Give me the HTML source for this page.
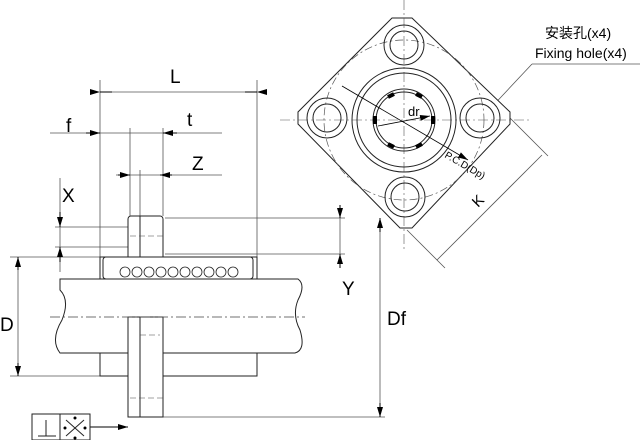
<!DOCTYPE html>
<html><head><meta charset="utf-8"><style>body{margin:0;background:#fff}svg{display:block}</style></head><body>
<svg width="640" height="440" viewBox="0 0 640 440" xmlns="http://www.w3.org/2000/svg" font-family="Liberation Sans, Noto Sans CJK SC, sans-serif">
<defs>
<marker id="a" markerWidth="10" markerHeight="6" refX="10" refY="3" orient="auto" markerUnits="userSpaceOnUse"><path d="M0,0 L10,3 L0,6z" fill="#000"/></marker>
</defs>
<g stroke="#555" stroke-width="0.8" fill="none">
<line x1="100" y1="80" x2="100" y2="257"/>
<line x1="257" y1="80" x2="257" y2="257"/>
<line x1="130" y1="128" x2="130" y2="216"/>
<line x1="140" y1="170" x2="140" y2="216"/>
<line x1="163" y1="128" x2="163" y2="216"/>
<line x1="100" y1="92" x2="257" y2="92"/>
<line x1="50" y1="133" x2="222" y2="133"/>
<line x1="116" y1="175" x2="222" y2="175"/>
<line x1="60" y1="178" x2="60" y2="272"/>
<line x1="55" y1="227" x2="128" y2="227"/>
<line x1="55" y1="247" x2="128" y2="247"/>
<line x1="10" y1="257" x2="100" y2="257"/>
<line x1="10" y1="376" x2="100" y2="376"/>
<line x1="18" y1="257" x2="18" y2="376"/>
<line x1="165" y1="218" x2="345" y2="218"/>
<line x1="165" y1="254" x2="345" y2="254"/>
<line x1="163" y1="417" x2="385" y2="417"/>
<line x1="340" y1="205" x2="340" y2="268"/>
<line x1="380" y1="218" x2="380" y2="417"/>
<line x1="407" y1="230" x2="445" y2="268"/>
<line x1="510" y1="118" x2="548" y2="156"/>
<line x1="437" y1="260" x2="542" y2="155"/>
<line x1="487" y1="112" x2="532" y2="64"/>
<line x1="532" y1="64" x2="640" y2="64"/>
</g>
<g stroke="#000" stroke-width="1" fill="none">
<line x1="100" y1="92" x2="112" y2="92" marker-start="url(#a)"/>
<line x1="257" y1="92" x2="245" y2="92" marker-start="url(#a)"/>
<line x1="86" y1="133" x2="100" y2="133" marker-end="url(#a)"/>
<line x1="177" y1="133" x2="163" y2="133" marker-end="url(#a)"/>
<line x1="118" y1="175" x2="130" y2="175" marker-end="url(#a)"/>
<line x1="172" y1="175" x2="160" y2="175" marker-end="url(#a)"/>
<line x1="60" y1="212" x2="60" y2="227" marker-end="url(#a)"/>
<line x1="60" y1="262" x2="60" y2="247" marker-end="url(#a)"/>
<line x1="18" y1="270" x2="18" y2="257" marker-end="url(#a)"/>
<line x1="18" y1="363" x2="18" y2="376" marker-end="url(#a)"/>
<line x1="340" y1="205" x2="340" y2="218" marker-end="url(#a)"/>
<line x1="340" y1="268" x2="340" y2="254" marker-end="url(#a)"/>
<line x1="380" y1="232" x2="380" y2="218" marker-end="url(#a)"/>
<line x1="380" y1="403" x2="380" y2="417" marker-end="url(#a)"/>
<line x1="90" y1="427" x2="128" y2="427" marker-end="url(#a)"/>
</g>
<g stroke="#222" stroke-width="1" fill="#fff">
<rect x="100" y="257" width="157" height="119"/>
<rect x="128" y="216" width="35" height="50" rx="3"/>
<path d="M60,279 L298,279 Q306,285 298,300 Q292,315 300,330 Q306,350 295,353 L60,353 Q50,340 62,320 Q70,300 60,290z"/>
<rect x="103" y="257" width="150" height="22" rx="3" fill="#fff"/>
<path d="M128,317 L163,317 L163,417 L128,417z"/>
<line x1="140" y1="317" x2="140" y2="417"/>
<line x1="140" y1="216" x2="140" y2="257"/>
</g>
<g stroke="#222" stroke-width="0.8" fill="#fff">
<circle cx="125" cy="272" r="5"/><circle cx="137" cy="272" r="5"/><circle cx="149" cy="272" r="5"/><circle cx="161" cy="272" r="5"/><circle cx="173" cy="272" r="5"/><circle cx="185" cy="272" r="5"/><circle cx="197" cy="272" r="5"/><circle cx="209" cy="272" r="5"/><circle cx="221" cy="272" r="5"/><circle cx="233" cy="272" r="5"/>
</g>
<line x1="50" y1="317" x2="305" y2="317" stroke="#444" stroke-width="0.7" stroke-dasharray="10,3,2,3"/>
<g stroke="#444" stroke-width="0.6" stroke-dasharray="6,3"><line x1="130" y1="236" x2="163" y2="236"/><line x1="140" y1="335" x2="160" y2="335"/><line x1="130" y1="398" x2="163" y2="398"/></g>
<g stroke="#222" fill="none" stroke-width="1"><rect x="32" y="414" width="58" height="26"/><line x1="60" y1="414" x2="60" y2="440"/><line x1="46" y1="420" x2="46" y2="436"/><line x1="38" y1="436" x2="56" y2="436"/>
<line x1="66" y1="420" x2="84" y2="436"/><line x1="84" y1="420" x2="66" y2="436"/></g>
<g fill="#000"><circle cx="75" cy="418" r="1.5"/><circle cx="75" cy="438" r="1.5"/><circle cx="65" cy="428" r="1.5"/><circle cx="85" cy="428" r="1.5"/></g>
<g stroke="#222" stroke-width="1" fill="#fff">
<path d="M392,18 L412,18 L510,112 L510,124 L412,228 L400,228 L298,124 L298,112z"/>
</g>
<circle cx="404" cy="120" r="80" stroke="#555" stroke-width="0.7" fill="none" stroke-dasharray="8,3,2,3"/>
<line x1="280" y1="120" x2="530" y2="120" stroke="#555" stroke-width="0.6" stroke-dasharray="10,3,2,3"/>
<line x1="404" y1="0" x2="404" y2="250" stroke="#555" stroke-width="0.6" stroke-dasharray="10,3,2,3"/>
<g stroke="#222" stroke-width="1" fill="none">
<circle cx="404" cy="45" r="20"/><circle cx="404" cy="45" r="14"/>
<circle cx="327" cy="118" r="20"/><circle cx="327" cy="118" r="14"/>
<circle cx="480" cy="118" r="20"/><circle cx="480" cy="118" r="14"/>
<circle cx="405" cy="197" r="20"/><circle cx="405" cy="197" r="14"/>
<circle cx="404" cy="120" r="52"/><circle cx="404" cy="120" r="47"/>
<circle cx="404" cy="120" r="31"/><circle cx="404" cy="120" r="28"/>
</g>
<g stroke="#000" stroke-width="4">
<line x1="388" y1="97" x2="394" y2="94"/><line x1="416" y1="94" x2="422" y2="97"/>
<line x1="375" y1="116" x2="375" y2="124"/><line x1="433" y1="116" x2="433" y2="124"/>
<line x1="388" y1="144" x2="394" y2="147"/><line x1="416" y1="147" x2="422" y2="144"/>
</g>
<g stroke="#000" stroke-width="0.8" fill="none">
<line x1="378" y1="126" x2="430" y2="116" marker-end="url(#a)"/>
<line x1="342" y1="86" x2="468" y2="160" marker-end="url(#a)"/>
</g>
<g fill="#000" font-size="19">
<text x="170" y="83">L</text>
<text x="66" y="132">f</text>
<text x="187" y="126">t</text>
<text x="192" y="170">Z</text>
<text x="62" y="202">X</text>
<text x="0" y="331">D</text>
<text x="342" y="295">Y</text>
<text x="387" y="325">Df</text>
</g>
<text x="408" y="116" font-size="13" fill="#000">dr</text>
<text x="0" y="0" font-size="10" fill="#000" transform="translate(444,157) rotate(30)">P.C.D(Dp)</text>
<text x="0" y="0" font-size="15" fill="#000" transform="translate(478,208) rotate(-45)">K</text>
<text x="545" y="38" font-size="14" fill="#000">安装孔(x4)</text>
<text x="535" y="58" font-size="14" fill="#000">Fixing hole(x4)</text>
</svg>
</body></html>
